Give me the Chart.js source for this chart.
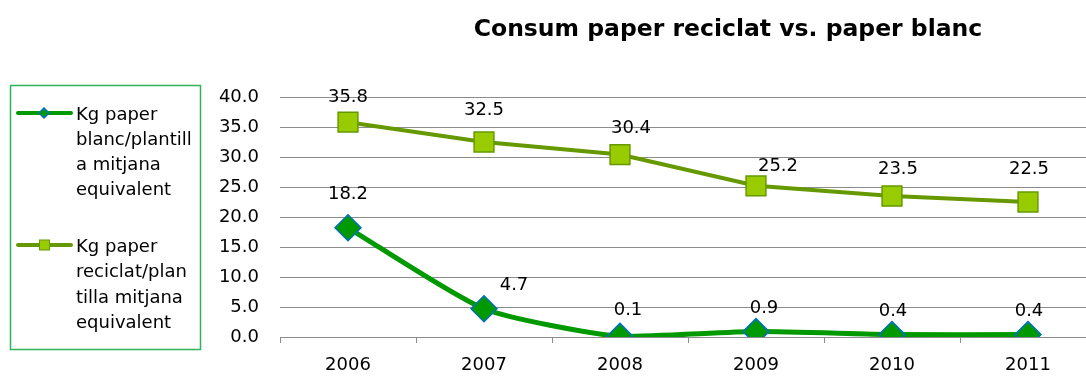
<!DOCTYPE html>
<html>
<head>
<meta charset="utf-8">
<script src="https://cdn.jsdelivr.net/npm/chart.js@4"></script>
<style>
  html, body { margin: 0; padding: 0; background: #fff; overflow: hidden; }
  #wrap { position: relative; width: 1100px; height: 376px; }
  #c { width: 1100px; height: 376px; display: block; }
</style>
</head>
<body>
<div id="wrap"><canvas id="c" width="1100" height="376"></canvas></div>
<script>
const title = 'Consum paper reciclat vs. paper blanc';
const categories = ['2006', '2007', '2008', '2009', '2010', '2011'];
const blancValues = [18.2, 4.7, 0.1, 0.9, 0.4, 0.4];
const reciclatValues = [35.8, 32.5, 30.4, 25.2, 23.5, 22.5];
const blancLegend = ['Kg paper', 'blanc/plantill', 'a mitjana', 'equivalent'];
const reciclatLegend = ['Kg paper', 'reciclat/plan', 'tilla mitjana', 'equivalent'];
const yTicks = [0, 5, 10, 15, 20, 25, 30, 35, 40];

// label offsets (style only): [dx, dy] relative to point
const blancLabelOffsets = [[0, -33], [30, -23], [8, -26], [8, -23], [1, -23], [1, -23]];
const reciclatLabelOffsets = [[0, -25], [0, -32], [11, -26], [22, -19], [6, -27], [1, -33]];

const FONT = '"DejaVu Sans", Verdana, sans-serif';
const BLANC = '#009900';
const BLANC_BORDER = '#0070C0';
const RECI_LINE = '#669900';
const RECI_FILL = '#99CC00';

const extrasPlugin = {
  id: 'extras',
  afterDatasetsDraw(chart) {
    const ctx = chart.ctx;
    ctx.save();
    ctx.fillStyle = '#000';
    ctx.font = '18px ' + FONT;
    ctx.textAlign = 'center';
    ctx.textBaseline = 'middle';
    const sets = [[0, blancValues, blancLabelOffsets], [1, reciclatValues, reciclatLabelOffsets]];
    sets.forEach(([di, vals, offs]) => {
      const meta = chart.getDatasetMeta(di);
      meta.data.forEach((pt, i) => {
        ctx.fillText(vals[i].toFixed(1), pt.x + offs[i][0], pt.y + offs[i][1]);
      });
    });
    ctx.restore();
  },
  afterDraw(chart) {
    const ctx = chart.ctx;
    ctx.save();
    // title
    ctx.fillStyle = '#000';
    ctx.font = 'bold 23.5px ' + FONT;
    ctx.textAlign = 'center';
    ctx.textBaseline = 'middle';
    ctx.fillText(title, 728, 30);
    // legend box
    ctx.strokeStyle = '#2DB45A';
    ctx.lineWidth = 1.5;
    ctx.strokeRect(10.5, 85.5, 190, 264);
    // legend item 1
    ctx.lineCap = 'round';
    ctx.strokeStyle = BLANC;
    ctx.lineWidth = 4;
    ctx.beginPath(); ctx.moveTo(18, 113); ctx.lineTo(71, 113); ctx.stroke();
    ctx.beginPath();
    ctx.moveTo(44, 108); ctx.lineTo(49, 113); ctx.lineTo(44, 118); ctx.lineTo(39, 113); ctx.closePath();
    ctx.fillStyle = BLANC; ctx.fill();
    ctx.lineWidth = 1.5; ctx.strokeStyle = BLANC_BORDER; ctx.stroke();
    // legend item 2
    ctx.strokeStyle = RECI_LINE;
    ctx.lineWidth = 4;
    ctx.beginPath(); ctx.moveTo(18, 245); ctx.lineTo(71, 245); ctx.stroke();
    ctx.fillStyle = RECI_FILL;
    ctx.fillRect(39.5, 240, 10, 10);
    ctx.lineWidth = 1; ctx.strokeStyle = RECI_LINE;
    ctx.strokeRect(39.5, 240, 10, 10);
    // legend texts
    ctx.fillStyle = '#000';
    ctx.font = '18px ' + FONT;
    ctx.textAlign = 'left';
    ctx.textBaseline = 'alphabetic';
    blancLegend.forEach((t, i) => ctx.fillText(t, 76, 120 + i * 25));
    reciclatLegend.forEach((t, i) => ctx.fillText(t, 76, 252 + i * 25.3));
    ctx.restore();
  }
};

new Chart(document.getElementById('c'), {
  type: 'line',
  data: {
    labels: categories,
    datasets: [
      {
        label: blancLegend.join(' '),
        data: blancValues,
        borderColor: BLANC,
        borderWidth: 5,
        tension: 0.2,
        pointStyle: 'rectRot',
        pointRadius: 13,
        pointBackgroundColor: BLANC,
        pointBorderColor: BLANC_BORDER,
        pointBorderWidth: 1.5
      },
      {
        label: reciclatLegend.join(' '),
        data: reciclatValues,
        borderColor: RECI_LINE,
        borderWidth: 4,
        tension: 0,
        pointStyle: 'rect',
        pointRadius: 14,
        pointBackgroundColor: RECI_FILL,
        pointBorderColor: RECI_LINE,
        pointBorderWidth: 1.5
      }
    ]
  },
  options: {
    responsive: false,
    maintainAspectRatio: false,
    animation: false,
    events: [],
    layout: { autoPadding: false, padding: { left: 0, right: 4, top: 97, bottom: 0 } },
    plugins: { legend: { display: false }, title: { display: false }, tooltip: { enabled: false } },
    scales: {
      x: {
        offset: true,
        grid: { offset: true, drawOnChartArea: false, drawTicks: true, tickLength: 6, color: '#8C8C8C' },
        border: { display: true, color: '#8C8C8C' },
        ticks: { font: { family: FONT, size: 18 }, color: '#000', padding: 12 },
        afterFit(scale) { scale.height = 39; scale.paddingLeft = 0; scale.paddingRight = 0; }
      },
      y: {
        min: 0, max: 40,
        afterBuildTicks(scale) { scale.ticks = yTicks.map(v => ({ value: v })); },
        grid: { color: '#8C8C8C', drawTicks: false, lineWidth: 1 },
        border: { display: false },
        ticks: { font: { family: FONT, size: 18 }, color: '#000', padding: 21, callback: v => Number(v).toFixed(1) },
        afterFit(scale) { scale.width = 280; scale.paddingTop = 0; scale.paddingBottom = 0; }
      }
    }
  },
  plugins: [extrasPlugin]
});
</script>
</body>
</html>
